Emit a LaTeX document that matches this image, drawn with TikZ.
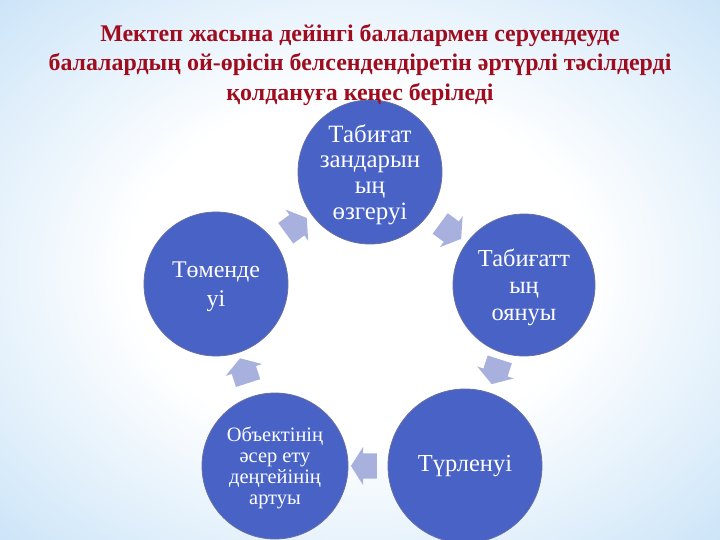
\documentclass[tikz,border=0pt]{standalone}
\usepackage{fontspec}
\setmainfont{Liberation Serif}
\usetikzlibrary{shapes.arrows,fadings}
\definecolor{titlered}{RGB}{158,12,30}
\definecolor{stageblue}{RGB}{72,98,198}
\definecolor{stageedge}{RGB}{105,112,160}
\definecolor{arrowlilac}{RGB}{168,176,222}
\definecolor{bgblue}{RGB}{170,211,243}
\definecolor{bgdeep}{RGB}{136,192,238}
\pgfdeclareradialshading{slidebg}{\pgfpoint{0bp}{0bp}}{%
  color(0bp)=(white); color(16bp)=(white); color(34bp)=(bgblue!55!white);
  color(48bp)=(bgblue); color(72bp)=(bgdeep)}
\tikzfading[name=bandfade, top color=transparent!100,
    middle color=transparent!25, bottom color=transparent!100]
\tikzstyle{stage} = [circle, fill=stageblue, draw=stageedge, line width=0.8pt,
    text=white, align=center, inner sep=2pt, minimum size=144bp]
\tikzstyle{cyclearrow} = [single arrow, fill=arrowlilac, draw=none,
    minimum width=38bp, minimum height=26bp, single arrow head extend=6.5bp,
    single arrow tip angle=115, inner xsep=0pt, inner ysep=12.5bp,
    sloped, allow upside down]
\tikzstyle{titletext} = [text=titlered, font=\bfseries\fontsize{24}{29.5}\selectfont,
    align=center]

\begin{document}
\begin{tikzpicture}[x=1bp, y=-1bp]
    \useasboundingbox (0,0) rectangle (720,540);
    \shade[shading=slidebg] (0,0) rectangle (720,540);
    \fill[white, path fading=bandfade] (0,335) rectangle (720,405);

    \node[stage, font=\fontsize{25}{26}\selectfont, text depth=0pt] (laws) at (370,172)
        {Табиғат\\зандарын\\ың\\өзгеруі};
    \node[stage, minimum size=142bp, font=\fontsize{24.5}{27}\selectfont, text depth=0pt] (wake) at (524,285)
        {Табиғатт\\ың\\оянуы};
    \node[stage, minimum size=154bp, font=\fontsize{24.5}{28}\selectfont] (change) at (465,466)
        {Түрленуі};
    \node[stage, minimum size=146bp, font=\fontsize{20.5}{21}\selectfont, text depth=0pt] (impact) at (275,466)
        {Объектінің\\әсер ету\\деңгейінің\\артуы};
    \node[stage, font=\fontsize{24}{29}\selectfont, text depth=-8bp] (decline) at (216,284)
        {Төменде\\уі};

    % arrows between the stages
    \path (laws) -- node[cyclearrow] (a1) {} (wake);
    \path (wake) -- node[cyclearrow, pos=0.38] (a2) {} (change);
    \path (change) -- node[cyclearrow] (a3) {} (impact);
    \path (impact) -- node[cyclearrow] (a4) {} (decline);
    \path (decline) -- node[cyclearrow] (a5) {} (laws);

    \node[titletext] (title) at (360,65)
        {Мектеп жасына дейінгі балалармен серуендеуде\\
         балалардың ой-өрісін белсендендіретін әртүрлі тәсілдерді\\
         қолдануға кеңес беріледі};
\end{tikzpicture}
\end{document}
